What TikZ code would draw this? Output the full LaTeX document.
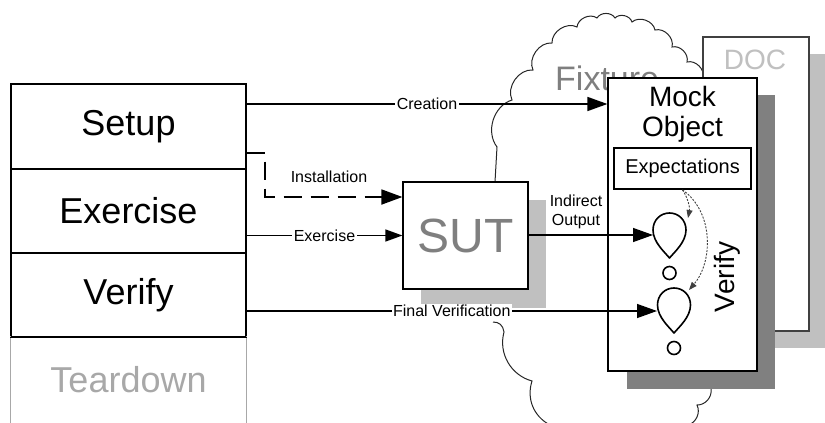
\documentclass[tikz,border=0pt]{standalone}
\usepackage{fontspec}
\setmainfont{Liberation Sans}
\usetikzlibrary{arrows.meta}
\definecolor{shadelight}{HTML}{C0C0C0}
\definecolor{shadedark}{HTML}{808080}
\definecolor{textgrey}{HTML}{7F7F7F}
\definecolor{fadegrey}{HTML}{A8A8A8}
\definecolor{docline}{HTML}{404040}

\begin{document}
\begin{tikzpicture}[x=1pt,y=-1pt,>={Triangle[length=20pt,width=14pt]},
  phase/.style={draw,line width=1.2pt,minimum width=235pt,inner sep=0pt,font=\fontsize{36}{40}\selectfont},
  lbl/.style={fill=white,inner sep=1.5pt,font=\fontsize{16}{19}\selectfont},
  flow/.style={line width=1.4pt,->},
  hint/.style={line width=0.9pt,dash pattern=on 2pt off 1.4pt,black!75,-{Triangle[length=8pt,width=6pt]}},
  cloudline/.style={line width=1pt,black!85}]
\useasboundingbox (0,0) rectangle (825,423);

% fixture cloud (only the parts that show)
\draw[cloudline] (495,182) -- (497,147) to[bend left=55] (512,100) to[bend left=60] (533,70)
  to[bend left=60] (552,43) to[bend left=60] (577,27) to[bend left=60] (597,18)
  to[bend left=60] (615,18) to[bend left=60] (632,22) to[bend left=60] (655,30)
  to[bend left=60] (672,47) to[bend left=60] (687,62) to[bend left=60] (703,78);
\draw[cloudline] (493,322) .. controls (499,322) and (503,325) .. (504,332)
  to[bend right=45] (532,381) to[bend right=40] (550,425);
\draw[cloudline] (688,425) to[bend right=50] (697,405) to[bend right=50] (711,389);

% DOC
\fill[shadelight] (721,54) rectangle (827,348);
\node[draw=docline,fill=white,line width=1.1pt,minimum width=106pt,minimum height=294pt,inner sep=0pt] (doc) at (756,184) {};
\node[text=shadelight,font=\fontsize{28}{30}\selectfont] (doclbl) at (755,60) {DOC};
\node[text=textgrey,anchor=base west,font=\fontsize{34}{36}\selectfont,inner sep=0pt] (fixture) at (555,90) {Fixture};

% mock object
\fill[shadedark] (627,95) rectangle (775,389);
\node[draw,fill=white,line width=1.2pt,minimum width=149pt,minimum height=293pt,inner sep=0pt] (mock) at (682.5,224.5) {};
\node[align=center,font=\fontsize{28}{30}\selectfont] (mocklbl) at (682.5,114) {Mock\\Object};
\node[draw,line width=1.8pt,minimum width=137pt,minimum height=41pt,inner sep=0pt,font=\fontsize{20}{22}\selectfont] (expect) at (682.5,168.5) {Expectations};
\node[rotate=90,font=\fontsize{28}{30}\selectfont] (verifylbl) at (727,277) {Verify};

% SUT
\fill[shadelight] (421,200) rectangle (546,308);
\node[draw,fill=white,line width=1.2pt,minimum width=125pt,minimum height=107pt,inner sep=0pt,text=textgrey,font=\fontsize{48}{50}\selectfont] (sut) at (465.5,235.5) {SUT};

% test phases
\node[phase,minimum height=85pt] (setup) at (128.5,126.5) {Setup};
\node[phase,minimum height=84pt] (exercise) at (128.5,211) {Exercise};
\node[phase,minimum height=84pt] (verify) at (128.5,295) {Verify};
\node[phase,draw=none,minimum height=86pt,text=fadegrey] (teardown) at (128.5,380) {Teardown};
\draw[fadegrey,line width=1.2pt] (teardown.north west) -- (teardown.south west)
  (teardown.north east) -- (teardown.south east);
\draw[line width=1.2pt] (verify.south west) -- (verify.south east);

% verifications
\foreach \cx/\ty [count=\i] in {669.5/213,674/288}
  \draw[line width=1.6pt,line join=round] (\cx,\ty+45)
    .. controls (\cx-5,\ty+39) and (\cx-16.5,\ty+29) .. (\cx-16.5,\ty+17)
    .. controls (\cx-16.5,\ty+7) and (\cx-9,\ty) .. (\cx,\ty)
    .. controls (\cx+9,\ty) and (\cx+16.5,\ty+7) .. (\cx+16.5,\ty+17)
    .. controls (\cx+16.5,\ty+29) and (\cx+5,\ty+39) .. (\cx,\ty+45) -- cycle
    (\cx,\ty+60) circle (6.5);
\coordinate (drop1) at (653,235);
\coordinate (drop2) at (657,311);
\coordinate (hint1) at (688,218);
\coordinate (hint2) at (689,290);
\coordinate (crt) at (mock.west |- 0,104);

% connectors
\draw[flow,line width=1.6pt] (setup.east |- crt) -- node[lbl]{Creation} (crt);
\draw[line width=1.8pt,dash pattern=on 18pt off 9pt,-{Triangle[length=21pt,width=15pt]}]
  (setup.east |- 0,153) -| (265,197) -- (sut.west |- 0,197);
\node[font=\fontsize{16}{19}\selectfont] (instlbl) at (329,177) {Installation};
\draw[flow,-{Triangle[length=17pt,width=12pt]}] (exercise.east |- sut.west) -- node[lbl]{Exercise} (sut.west);
\draw[flow] (sut.east |- drop1) -- (drop1);
\node[align=center,font=\fontsize{16}{19}\selectfont] (outlbl) at (576,212) {Indirect\\Output};
\draw[flow] (verify.east |- drop2) -- node[lbl]{Final Verification} (drop2);
\draw[hint] (expect.south) .. controls (688,198) and (690,208) .. (hint1);
\draw[hint] (expect.south) .. controls (714,212) and (713,262) .. (hint2);
\end{tikzpicture}
\end{document}
